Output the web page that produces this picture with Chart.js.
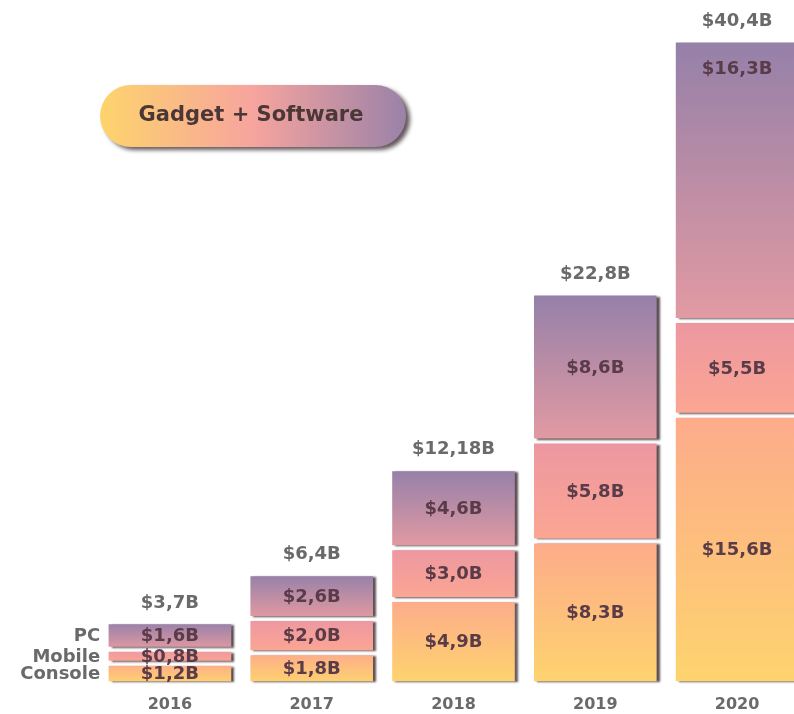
<!DOCTYPE html>
<html lang="en">
<head>
  <meta charset="UTF-8">
  <title>Gadget + Software</title>
  <script src="https://cdn.jsdelivr.net/npm/chart.js@4.4.1/dist/chart.umd.min.js"></script>
  <style>
    html, body { margin: 0; padding: 0; background: #fff; overflow: hidden; }
    #wrap { width: 810px; height: 727px; }
  </style>
</head>
<body>
  <div id="wrap"><canvas id="myChart"></canvas></div>

  <script>
    const years = ['2016', '2017', '2018', '2019', '2020'];
    const seriesNames = ['Console', 'Mobile', 'PC'];
    const consoleVals = [1.2, 1.8, 4.9, 8.3, 15.6];
    const mobileVals = [0.8, 2.0, 3.0, 5.8, 5.5];
    const pcVals = [1.6, 2.6, 4.6, 8.6, 16.3];
    const totals = [3.7, 6.4, 12.18, 22.8, 40.4];
    const pillText = 'Gadget + Software';

    // bottom colour, top colour of each segment
    const segColors = {
      Console: ['#fed46e', '#fdab8b'],
      Mobile: ['#fca693', '#ec97a1'],
      PC: ['#e39aa2', '#9480a9']
    };

    const FONT = '"DejaVu Sans", sans-serif';
    const GREY = '#6a6a6a';

    function fmt(v) {
      const oneDec = Math.abs(v * 10 - Math.round(v * 10)) < 1e-9;
      return '$' + (oneDec ? v.toFixed(1) : String(v)).replace('.', ',') + 'B';
    }

    function segGradient(context) {
      const chart = context.chart;
      const name = seriesNames[context.datasetIndex];
      const y = chart.scales.y;
      if (context.type !== 'data' || !chart.chartArea || !y) return segColors[name][0];
      const i = context.dataIndex;
      let base = 0;
      for (let d = 0; d < context.datasetIndex; d++) base += chart.data.datasets[d].data[i];
      const top = base + chart.data.datasets[context.datasetIndex].data[i];
      const g = chart.ctx.createLinearGradient(0, y.getPixelForValue(base), 0, y.getPixelForValue(top));
      g.addColorStop(0, segColors[name][0]);
      g.addColorStop(1, segColors[name][1]);
      return g;
    }

    const decor = {
      id: 'decor',
      beforeDatasetsDraw(chart) {
        const c = chart.ctx;
        c.save();
        c.shadowColor = 'rgba(65, 50, 55, 0.85)';
        c.shadowOffsetX = 3;
        c.shadowOffsetY = 1;
        c.shadowBlur = 2;
      },
      afterDatasetsDraw(chart) {
        const c = chart.ctx;
        c.restore();
        c.save();
        c.textAlign = 'center';
        c.textBaseline = 'middle';

        // values inside the segments
        c.font = 'bold 18px ' + FONT;
        c.fillStyle = '#5a3b48';
        chart.data.datasets.forEach((ds, d) => {
          chart.getDatasetMeta(d).data.forEach((bar, i) => {
            const h = bar.base - bar.y;
            let ly = bar.y + h / 2;
            if (d === 2 && h > 150) ly = bar.y + 28;
            c.fillText(fmt(ds.data[i]), bar.x, ly + 1);
          });
        });

        // totals above each stack
        const topMeta = chart.getDatasetMeta(chart.data.datasets.length - 1);
        c.fillStyle = GREY;
        topMeta.data.forEach((bar, i) => {
          c.fillText(fmt(totals[i]), bar.x, bar.y - 19);
        });

        // series names beside the first stack
        c.textAlign = 'right';
        chart.data.datasets.forEach((ds, d) => {
          const bar = chart.getDatasetMeta(d).data[0];
          c.fillText(ds.label, bar.x - bar.width / 2 - 6, (bar.y + bar.base) / 2 + 1);
        });
        c.restore();
      },
      afterDraw(chart) {
        const c = chart.ctx;
        const x = 100, y = 85, w = 306, h = 62;
        c.save();
        const g = c.createLinearGradient(x, 0, x + w, 0);
        g.addColorStop(0, '#fdd46c');
        g.addColorStop(0.5, '#f7a49e');
        g.addColorStop(1, '#9a82a8');
        c.shadowColor = 'rgba(60, 45, 50, 0.8)';
        c.shadowOffsetX = 4;
        c.shadowOffsetY = 3;
        c.shadowBlur = 4;
        c.beginPath();
        c.roundRect(x, y, w, h, h / 2);
        c.fillStyle = g;
        c.fill();
        c.restore();
        c.save();
        c.font = 'bold 21px ' + FONT;
        c.fillStyle = '#4b3836';
        c.textAlign = 'center';
        c.textBaseline = 'middle';
        c.fillText(pillText, x + w / 2 - 2, y + h / 2);
        c.restore();
      }
    };

    const stackMax = Math.max(...years.map((_, i) => consoleVals[i] + mobileVals[i] + pcVals[i]));
    const valueLists = [consoleVals, mobileVals, pcVals];

    const ctx = document.getElementById('myChart').getContext('2d');
    const myChart = new Chart(ctx, {
      type: 'bar',
      data: {
        labels: years,
        datasets: seriesNames.map((name, d) => ({
          label: name,
          data: valueLists[d],
          backgroundColor: segGradient,
          borderWidth: 0,
          inflateAmount: -2.5,
          barPercentage: 0.9,
          categoryPercentage: 1,
          clip: false
        }))
      },
      options: {
        responsive: true,
        maintainAspectRatio: false,
        animation: false,
        events: [],
        layout: { padding: { left: 99, right: 2, top: 40, bottom: 2 } },
        plugins: {
          legend: { display: false },
          tooltip: { enabled: false }
        },
        scales: {
          x: {
            stacked: true,
            grid: { display: false, drawTicks: false },
            border: { display: false },
            ticks: {
              color: GREY,
              padding: 11,
              font: { family: FONT, size: 16, weight: 'bold' }
            }
          },
          y: {
            stacked: true,
            display: false,
            min: 0,
            max: stackMax
          }
        }
      },
      plugins: [decor]
    });
  </script>
</body>
</html>
